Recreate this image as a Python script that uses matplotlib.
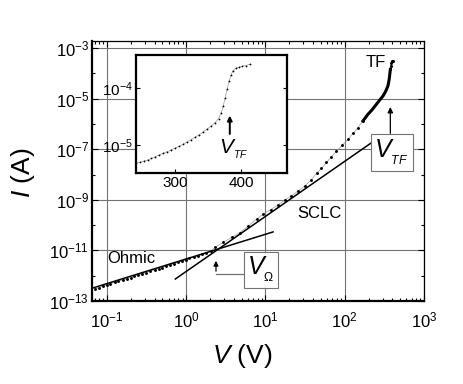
import matplotlib
matplotlib.use("Agg")
import matplotlib.pyplot as plt
from matplotlib.ticker import NullFormatter, NullLocator

plt.rcParams['font.family'] = ['Liberation Sans', 'DejaVu Sans']
plt.rcParams['mathtext.fontset'] = 'custom'
plt.rcParams['mathtext.rm'] = 'Liberation Sans'
plt.rcParams['mathtext.it'] = 'Liberation Sans:italic'
plt.rcParams['mathtext.default'] = 'regular'

# measured I-V points (log-log, dotted part)
volts = [0.071, 0.08, 0.089, 0.1, 0.11, 0.125, 0.14, 0.16, 0.18, 0.2, 0.22,
         0.25, 0.28, 0.31, 0.35, 0.4, 0.45, 0.5, 0.56, 0.63, 0.71, 0.8, 0.89,
         1.0, 1.1, 1.25, 1.4, 1.6, 1.8, 2.05, 2.32, 2.94, 3.76, 4.78, 6.08,
         7.74, 9.38, 11.6, 14.5, 17.6, 21.3, 25.9, 31.4, 38.1, 44.1, 50.9,
         58.9, 68.1, 78.7, 93.5, 110, 127, 147, 170]
current = [3.0e-13, 3.4e-13, 3.8e-13, 4.3e-13, 4.8e-13, 5.4e-13, 6.0e-13,
           6.8e-13, 7.6e-13, 8.5e-13, 9.5e-13, 1.07e-12, 1.2e-12, 1.34e-12,
           1.5e-12, 1.7e-12, 1.9e-12, 2.1e-12, 2.4e-12, 2.7e-12, 3.0e-12,
           3.4e-12, 3.8e-12, 4.3e-12, 4.8e-12, 5.5e-12, 6.2e-12, 7.0e-12,
           7.9e-12, 9.6e-12, 1.32e-11, 2.1e-11, 3.3e-11, 5.1e-11, 9.3e-11,
           1.74e-10, 2.75e-10, 4.1e-10, 6.3e-10, 1.0e-9, 1.45e-9, 2.24e-9,
           3.55e-9, 6.3e-9, 1.12e-8, 1.74e-8, 3.0e-8, 5.1e-8, 8.5e-8, 1.45e-7,
           2.5e-7, 4.3e-7, 7.2e-7, 1.32e-6]

# dense part near trap filling (drawn as a solid run of points)
volts_dense = [170, 196, 219, 251, 275, 303, 327, 351, 363, 368, 376]
current_dense = [1.32e-6, 2.4e-6, 3.5e-6, 6.0e-6, 8.7e-6, 1.26e-5, 1.9e-5,
                 3.2e-5, 5.6e-5, 7.8e-5, 1.45e-4]

# hook at the very top
volts_top = [376, 380, 388, 398, 412]
current_top = [1.45e-4, 1.9e-4, 2.6e-4, 3.0e-4, 3.2e-4]

# fitted lines
ohmic_v = [0.065, 12.5]
ohmic_i = [3.2e-13, 5.4e-11]
sclc_v = [0.73, 217]
sclc_i = [7.4e-13, 1.8e-7]

# inset, linear V axis
inset_v = [240, 246, 252, 258, 264, 270, 276, 282, 288, 294, 300, 306, 312,
           318, 324, 330, 336, 342, 348, 354, 360, 366, 370, 373, 376, 379,
           382, 385, 388, 392, 397, 402, 407, 413]
inset_i = [4.68e-6, 4.90e-6, 5.13e-6, 5.37e-6, 5.75e-6, 6.17e-6, 6.61e-6,
           7.08e-6, 7.59e-6, 8.13e-6, 8.71e-6, 9.33e-6, 1.02e-5, 1.12e-5,
           1.23e-5, 1.35e-5, 1.48e-5, 1.66e-5, 1.86e-5, 2.09e-5, 2.40e-5,
           2.88e-5, 3.63e-5, 4.79e-5, 6.61e-5, 9.55e-5, 1.32e-4, 1.70e-4,
           2.00e-4, 2.19e-4, 2.29e-4, 2.40e-4, 2.45e-4, 2.57e-4]

x_major = [1e-1, 1e0, 1e1, 1e2, 1e3]
y_major = [1e-13, 1e-11, 1e-9, 1e-7, 1e-5, 1e-3]
y_minor = [1e-12, 1e-10, 1e-8, 1e-6, 1e-4]

V_TF = r'$\mathit{V}_{_{\mathit{TF}}}$'
V_OHM = r'$\mathit{V}_{_{\Omega}}$'


def style_main(ax):
    """log axes, inward ticks, grid on labelled decades"""
    ax.set_xscale('log')
    ax.set_yscale('log')
    ax.set_xlim(0.065, 1e3)
    ax.set_ylim(1e-13, 10 ** -2.72)
    ax.set_xticks(x_major)
    ax.set_yticks(y_major)
    ax.set_yticks(y_minor, minor=True)
    ax.yaxis.set_minor_formatter(NullFormatter())
    ax.tick_params(which='both', direction='in', top=True, right=True,
                   labelsize=12, width=0.8)
    ax.tick_params(which='major', length=4)
    ax.tick_params(which='minor', length=2.5)
    ax.tick_params(axis='x', pad=7)
    ax.tick_params(axis='y', pad=2)
    ax.grid(True, which='major', color='0.45', lw=0.8)
    for side in ['left', 'bottom']:
        ax.spines[side].set_linewidth(1.6)
    for side in ['top', 'right']:
        ax.spines[side].set_linewidth(0.9)

    ax.set_xlabel(r'$\mathit{V}$ (V)', fontsize=19)
    ax.xaxis.set_label_coords(0.452, -0.158)
    ax.set_ylabel(r'$\mathit{I}$ (A)', fontsize=19)
    ax.yaxis.set_label_coords(-0.166, 0.492)


def draw_main(ax):
    """data points, fits and annotations"""
    ax.plot(volts, current, color='0.6', lw=0.5, zorder=3)
    ax.plot(volts, current, 'o', color='k', ms=2.1, mew=0, zorder=4)
    ax.plot(volts_dense, current_dense, '-', color='k', lw=2.2, zorder=4)
    ax.plot(volts_top, current_top, 'o', color='k', ms=2.2, mew=0, zorder=4)
    ax.plot(volts_top, current_top, color='0.5', lw=0.5, zorder=3)

    ax.plot(ohmic_v, ohmic_i, color='k', lw=1.1, zorder=5)
    ax.plot(sclc_v, sclc_i, color='k', lw=1.1, zorder=5)

    ax.text(0.203, 4.6e-12, 'Ohmic', fontsize=12, ha='center', va='center')
    ax.text(48.5, 3.0e-10, 'SCLC', fontsize=12, ha='center', va='center')
    ax.text(245, 2.7e-4, 'TF', fontsize=12, ha='center', va='center')

    box = dict(boxstyle='square,pad=0.15', fc='white', ec='0.45', lw=0.8)
    ax.text(390, 7.6e-8, V_TF, fontsize=18, ha='center', va='center',
            bbox=box, zorder=6)
    ax.annotate('', xy=(376, 10 ** -5.22), xytext=(376, 10 ** -6.48),
                arrowprops=dict(arrowstyle='-|>', color='k', lw=0.9,
                                mutation_scale=8))

    ax.text(8.8, 1.7e-12, V_OHM, fontsize=18, ha='center', va='center',
            bbox=box, zorder=6)
    ax.plot([2.38, 5.8], [10 ** -11.93, 10 ** -11.93], color='0.45', lw=0.9)
    ax.annotate('', xy=(2.38, 10 ** -11.3), xytext=(2.38, 10 ** -11.93),
                arrowprops=dict(arrowstyle='-|>', color='k', lw=0.9,
                                mutation_scale=7))


def draw_inset(fig):
    """linear-V close up of the trap filling step"""
    ins = fig.add_axes([0.293, 0.549, 0.327, 0.307])
    ins.set_yscale('log')
    ins.set_xlim(240, 470)
    ins.set_ylim(10 ** -5.5, 10 ** -3.43)
    ins.set_xticks([300, 400])
    ins.set_yticks([1e-5, 1e-4])
    ins.yaxis.set_minor_locator(NullLocator())
    ins.tick_params(direction='in', right=True, length=3, labelsize=11,
                    width=0.8, pad=2)
    for side in ins.spines.values():
        side.set_linewidth(1.6)

    ins.plot(inset_v, inset_i, color='0.6', lw=0.5)
    ins.plot(inset_v, inset_i, 'o', color='k', ms=1.3, mew=0)

    ins.annotate('', xy=(383, 10 ** -4.44), xytext=(383, 10 ** -4.86),
                 arrowprops=dict(arrowstyle='-|>', color='k', lw=1.4,
                                 mutation_scale=7))
    ins.text(388, 10 ** -5.07, V_TF, fontsize=15, ha='center', va='center')


fig = plt.figure(figsize=(4.63, 3.84), dpi=100)
ax = fig.add_axes([0.1987, 0.2161, 0.7171, 0.6771])
style_main(ax)
draw_main(ax)
draw_inset(fig)

fig.savefig('out.png', dpi=100)
